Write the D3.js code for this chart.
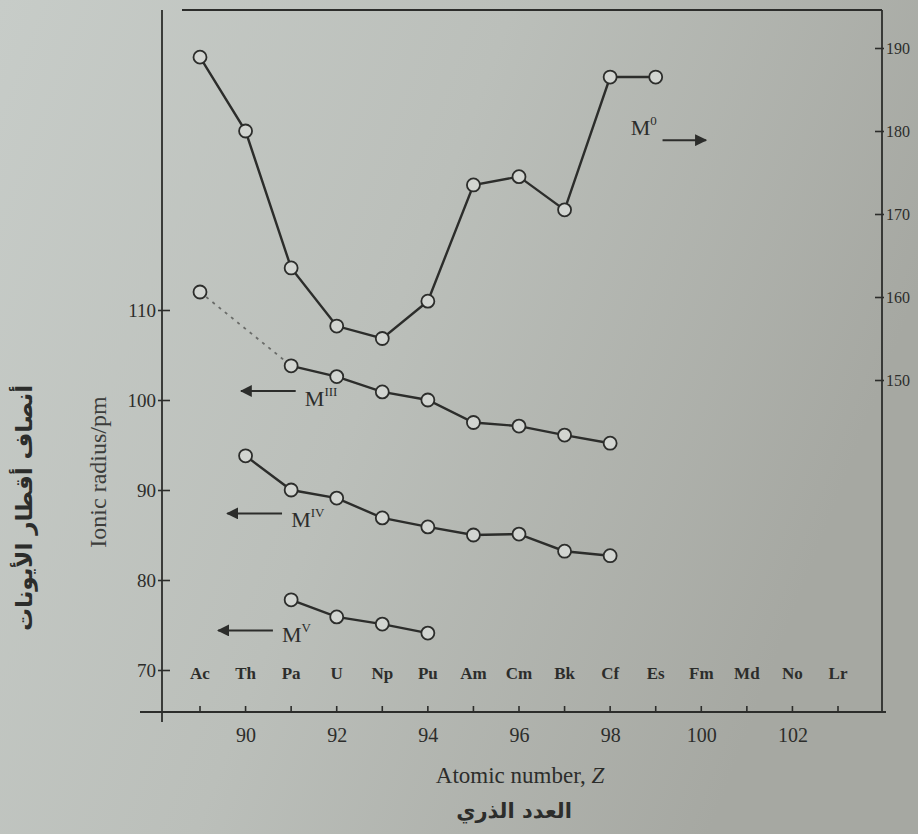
<!DOCTYPE html>
<html>
<head>
<meta charset="utf-8">
<script src="https://cdn.jsdelivr.net/npm/d3@7"></script>
<style>
  html, body { margin: 0; padding: 0; background: #bcc0bb; }
  svg { display: block; }
</style>
</head>
<body>
<svg id="chart" width="918" height="834"></svg>
<script>
// ---- data ----
const elementSymbols = ["Ac","Th","Pa","U","Np","Pu","Am","Cm","Bk","Cf","Es","Fm","Md","No","Lr"];
const atomicNumbers  = [89,90,91,92,93,94,95,96,97,98,99,100,101,102,103];
const xTickValues    = [90,92,94,96,98,100,102];
const leftTicks      = [70,80,90,100,110];
const rightTicks     = [150,160,170,180,190];

// metallic radii (right axis)
const m0Z      = [89,90,91,92,93,94,95,96,97,98,99];
const m0Values = [188.9,180,163.5,156.5,155,159.5,173.5,174.5,170.5,186.5,186.5];
// ionic radii (left axis)
const m3DottedZ      = [89,91];
const m3DottedValues = [112,103.8];
const m3Z      = [91,92,93,94,95,96,97,98];
const m3Values = [103.8,102.6,100.9,100,97.5,97.1,96.1,95.2];
const m4Z      = [90,91,92,93,94,95,96,97,98];
const m4Values = [93.8,90,89.1,86.9,85.9,85,85.1,83.2,82.7];
const m5Z      = [91,92,93,94];
const m5Values = [77.8,75.9,75.1,74.1];

// ---- layout ----
const svg = d3.select("#chart");
const W = 918, H = 834;
const frame = {left: 162, right: 882, top: 10, bottom: 712};
const ink = "#2c2d2b";
const serif = "'Liberation Serif', 'DejaVu Serif', serif";
const arabic = "'DejaVu Sans', sans-serif";

// background vignette
const defs = svg.append("defs");
const grad = defs.append("linearGradient").attr("id","bg").attr("x1","0").attr("x2","1").attr("y1","0").attr("y2","0.35");
grad.append("stop").attr("offset","0").attr("stop-color","#c7ccc8");
grad.append("stop").attr("offset","0.5").attr("stop-color","#bbbfba");
grad.append("stop").attr("offset","1").attr("stop-color","#a6a8a2");
svg.append("rect").attr("width",W).attr("height",H).attr("fill","url(#bg)");

const x = d3.scaleLinear().domain([89,103]).range([200,838]);
const yL = d3.scaleLinear().domain([70,110]).range([670,310]);
const yR = d3.scaleLinear().domain([150,190]).range([380,48]);

// frame: top line
svg.append("line").attr("x1",frame.left+20).attr("x2",frame.right).attr("y1",frame.top).attr("y2",frame.top)
  .attr("stroke",ink).attr("stroke-width",1.8);

// left axis
const gL = svg.append("g").attr("transform",`translate(${frame.left},0)`)
  .call(d3.axisLeft(yL).tickValues(leftTicks).tickSize(6).tickPadding(4).tickFormat(d3.format("d")));
gL.select(".domain").remove();
gL.append("line").attr("x1",0).attr("x2",0).attr("y1",frame.top).attr("y2",frame.bottom+10)
  .attr("stroke",ink).attr("stroke-width",1.8);
gL.selectAll(".tick line").attr("x1",8).attr("x2",-4).attr("stroke",ink).attr("stroke-width",1.6);
gL.selectAll(".tick text").attr("fill",ink).attr("font-family",serif).attr("font-size",19).attr("x",-6);

// right axis
const gR = svg.append("g").attr("transform",`translate(${frame.right},0)`)
  .call(d3.axisRight(yR).tickValues(rightTicks).tickSize(0).tickPadding(4).tickFormat(d3.format("d")));
gR.select(".domain").remove();
gR.append("line").attr("x1",0).attr("x2",0).attr("y1",frame.top).attr("y2",frame.bottom)
  .attr("stroke",ink).attr("stroke-width",1.8);
gR.selectAll(".tick line").attr("x1",-7).attr("x2",2).attr("stroke",ink).attr("stroke-width",1.6);
gR.selectAll(".tick text").attr("fill",ink).attr("font-family",serif).attr("font-size",16);

// bottom axis
const gB = svg.append("g").attr("transform",`translate(0,${frame.bottom})`)
  .call(d3.axisBottom(x).tickValues(xTickValues).tickSize(0).tickPadding(16).tickFormat(d3.format("d")));
gB.select(".domain").remove();
gB.append("line").attr("x1",140).attr("x2",frame.right+4).attr("y1",0).attr("y2",0)
  .attr("stroke",ink).attr("stroke-width",2);
gB.selectAll(".tick text").attr("fill",ink).attr("font-family",serif).attr("font-size",20);
gB.selectAll(".minor").data(atomicNumbers).enter().append("line")
  .attr("x1",d=>x(d)).attr("x2",d=>x(d)).attr("y1",0).attr("y2",-6)
  .attr("stroke",ink).attr("stroke-width",1.6);

// element symbols
svg.append("g").selectAll("text").data(elementSymbols).enter().append("text")
  .attr("x",(d,i)=>x(atomicNumbers[i])).attr("y",679)
  .attr("text-anchor","middle").attr("font-family",serif).attr("font-size",17)
  .attr("font-weight","bold").attr("fill",ink)
  .text(d=>d);

// axis titles
svg.append("text").attr("transform","translate(106,472) rotate(-90)")
  .attr("text-anchor","middle").attr("font-family",serif).attr("font-size",24).attr("fill","#3c3d3b")
  .text("Ionic radius/pm");
svg.append("text").attr("transform","translate(32,508) rotate(-90)")
  .attr("text-anchor","middle").attr("font-family",arabic).attr("font-weight","bold")
  .attr("font-size",23).attr("fill",ink).attr("direction","rtl")
  .text("أنصاف أقطار الأيونات");
const xt = svg.append("text").attr("x",520).attr("y",783).attr("text-anchor","middle")
  .attr("font-family",serif).attr("font-size",23).attr("fill",ink);
xt.append("tspan").text("Atomic number, ");
xt.append("tspan").attr("font-style","italic").text("Z");
svg.append("text").attr("x",514).attr("y",818).attr("text-anchor","middle")
  .attr("font-family",arabic).attr("font-weight","bold")
  .attr("font-size",21).attr("fill",ink).attr("direction","rtl")
  .text("العدد الذري");

// ---- series ----
function drawSeries(zs, vals, yScale, dashed) {
  const pts = zs.map((z,i)=>[x(z), yScale(vals[i])]);
  svg.append("path").attr("d", d3.line()(pts)).attr("fill","none")
    .attr("stroke", dashed ? "#6a6c69" : ink).attr("stroke-width", dashed ? 1.8 : 2.4)
    .attr("stroke-dasharray", dashed ? "3,5" : null);
  return pts;
}
function drawMarkers(pts) {
  svg.append("g").selectAll("circle").data(pts).enter().append("circle")
    .attr("cx",d=>d[0]).attr("cy",d=>d[1]).attr("r",6.5)
    .attr("fill","#d2d5d1").attr("stroke",ink).attr("stroke-width",1.8);
}
const pD = drawSeries(m3DottedZ, m3DottedValues, yL, true);
const p0 = drawSeries(m0Z, m0Values, yR, false);
const p3 = drawSeries(m3Z, m3Values, yL, false);
const p4 = drawSeries(m4Z, m4Values, yL, false);
const p5 = drawSeries(m5Z, m5Values, yL, false);
drawMarkers([pD[0]]); drawMarkers(p0); drawMarkers(p3); drawMarkers(p4); drawMarkers(p5);

// ---- series labels with arrows ----
defs.append("marker").attr("id","ah").attr("viewBox","0 0 10 10").attr("refX",9).attr("refY",5)
  .attr("markerWidth",6).attr("markerHeight",6).attr("orient","auto-start-reverse")
  .append("path").attr("d","M0,0 L10,5 L0,10 z").attr("fill",ink);

function seriesLabel(lx, ly, sup, ax1, ax2, ay) {
  svg.append("line").attr("x1",ax1).attr("x2",ax2).attr("y1",ay).attr("y2",ay)
    .attr("stroke",ink).attr("stroke-width",2).attr("marker-end","url(#ah)");
  const t = svg.append("text").attr("x",lx).attr("y",ly).attr("font-family",serif)
    .attr("font-size",22).attr("fill",ink);
  t.append("tspan").text("M");
  t.append("tspan").attr("font-size",13).attr("dy",-10).text(sup);
}
// positions relative to scales
seriesLabel(x(91.3), yL(99.3), "III", x(91.1), x(89.9), yL(101));
seriesLabel(x(91.0), yL(85.9), "IV",  x(90.8), x(89.6), yL(87.4));
seriesLabel(x(90.8), yL(73.1), "V",   x(90.6), x(89.4), yL(74.4));
seriesLabel(x(98.45), yR(179.5), "0", x(99.15), x(100.1), yR(178.9));
</script>
</body>
</html>
